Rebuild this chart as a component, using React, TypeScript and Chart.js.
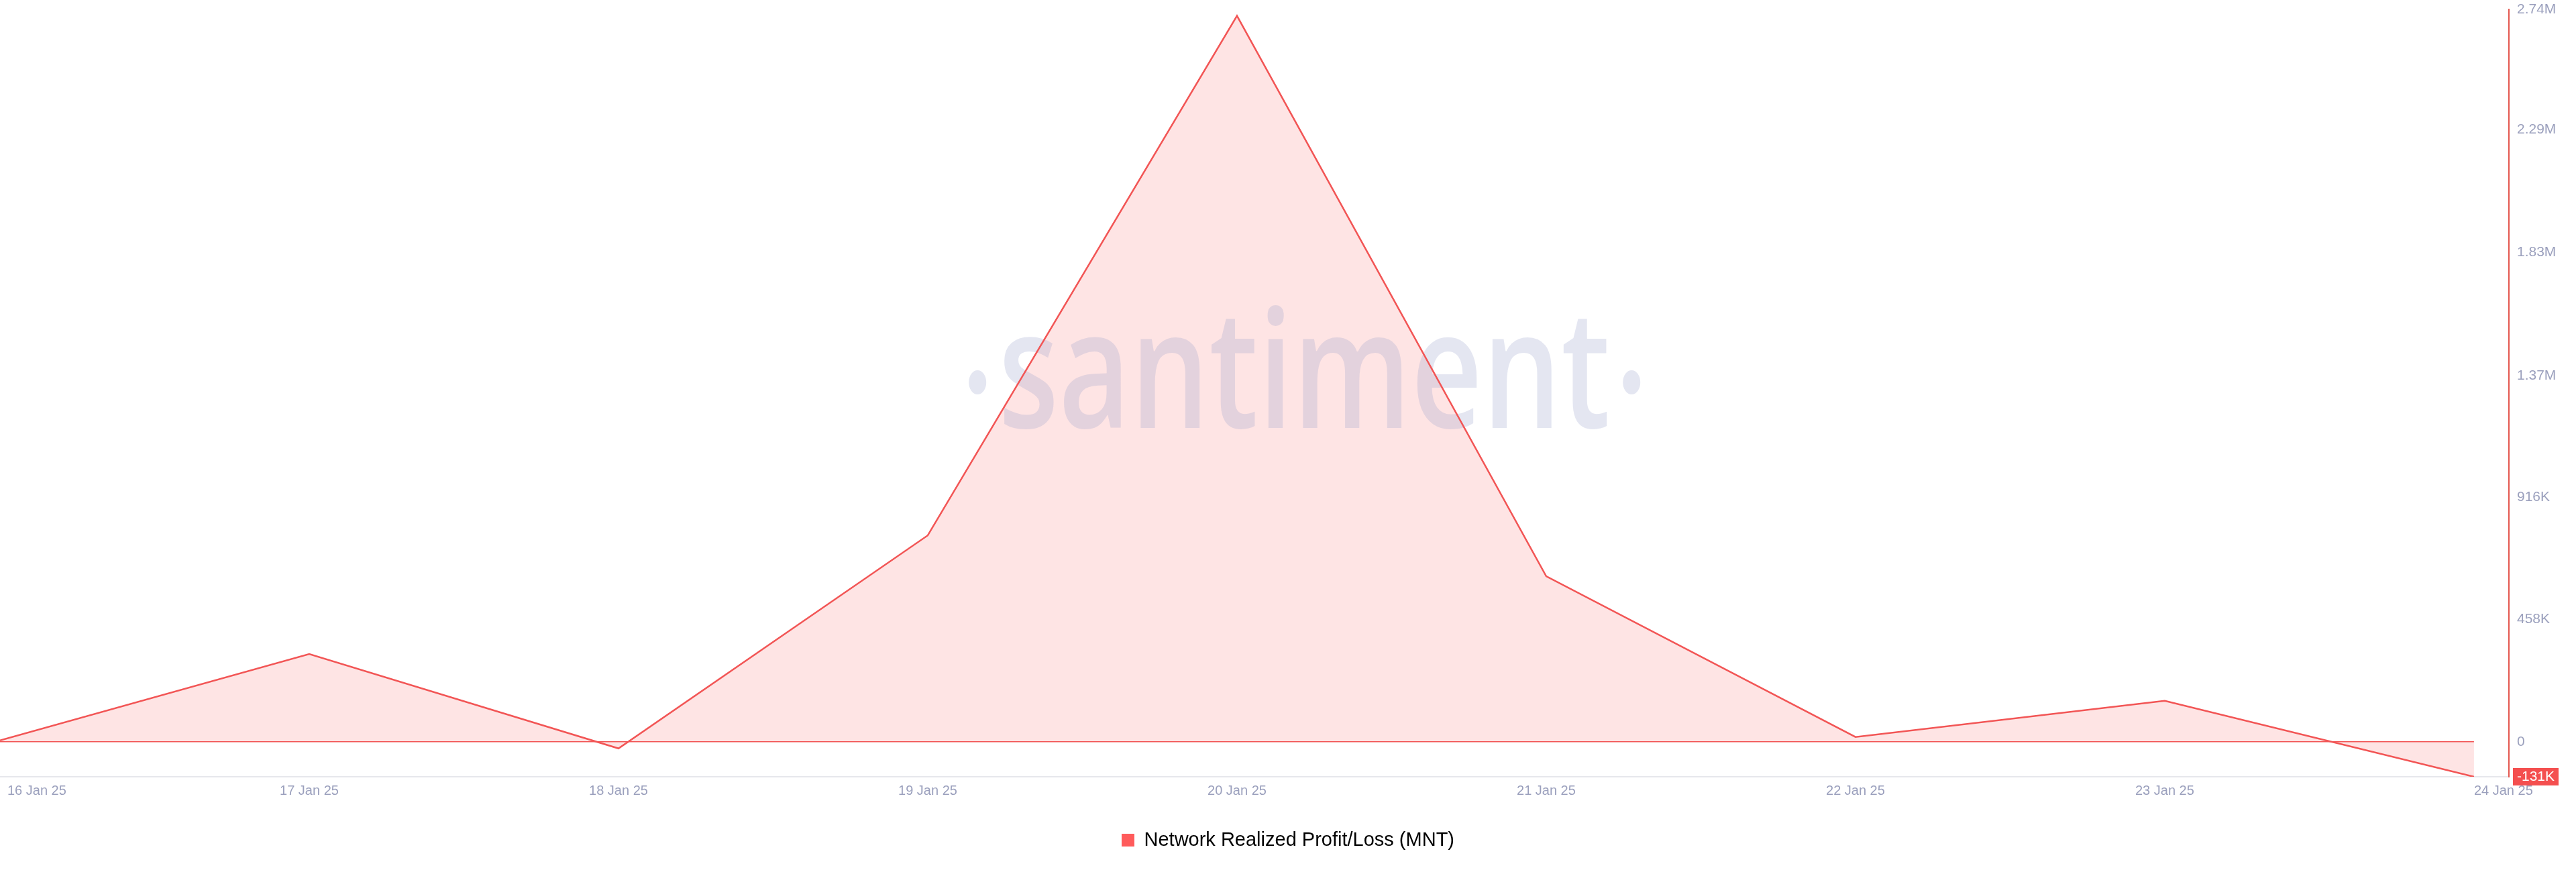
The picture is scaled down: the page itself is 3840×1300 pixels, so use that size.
import React, { useEffect, useRef } from "react";
import { Chart, registerables } from "chart.js";

Chart.register(...registerables);

// ---- data ----
const dateLabels = [
  "16 Jan 25",
  "17 Jan 25",
  "18 Jan 25",
  "19 Jan 25",
  "20 Jan 25",
  "21 Jan 25",
  "22 Jan 25",
  "23 Jan 25",
  "24 Jan 25",
];
const profitLoss = [5000, 328000, -25000, 772000, 2716000, 619000, 18000, 153000, -131000];
const yTickValues = [0, 458000, 916000, 1370000, 1830000, 2290000, 2740000];
const yTickLabels = ["0", "458K", "916K", "1.37M", "1.83M", "2.29M", "2.74M"];
const lastValueLabel = "-131K";
const seriesName = "Network Realized Profit/Loss (MNT)";
const yMin = -131000;
const yMax = 2740000;
const xMax = 8.113;

const FONT = '"Liberation Sans", Arial, sans-serif';
const RED = "#f25555";
const TICK_COLOR = "#9ba0bd";

export default function App() {
  const ref = useRef<HTMLCanvasElement | null>(null);

  useEffect(() => {
    document.body.style.margin = "0";
    const canvas = ref.current;
    if (!canvas) return;

    const watermark = {
      id: "watermark",
      beforeDatasetsDraw(chart: any) {
        const ctx = chart.ctx;
        const cx = chart.width * 0.5063;
        const baseline = 638;
        ctx.save();
        ctx.globalAlpha = 0.26;
        ctx.fillStyle = "rgb(150,160,200)";
        ctx.font = '600 245px "Open Sans"';
        ctx.textBaseline = "alphabetic";
        ctx.textAlign = "left";
        const w = ctx.measureText("santiment").width;
        const target = 912;
        const sx = target / w;
        ctx.translate(cx - target / 2, baseline);
        ctx.scale(sx, 1);
        ctx.fillText("santiment", 0, 0);
        ctx.restore();
        ctx.save();
        ctx.globalAlpha = 0.26;
        ctx.fillStyle = "rgb(150,160,200)";
        for (const dx of [-487, 488]) {
          ctx.beginPath();
          ctx.ellipse(cx + dx, 570, 13, 18, 0, 0, Math.PI * 2);
          ctx.fill();
        }
        ctx.restore();
      },
    };

    const extras = {
      id: "extras",
      afterDatasetsDraw(chart: any) {
        const ctx = chart.ctx;
        const xs = chart.scales.x;
        const ys = chart.scales.y;
        const y0 = ys.getPixelForValue(0);
        ctx.save();
        ctx.strokeStyle = RED;
        ctx.lineWidth = 1.5;
        ctx.beginPath();
        ctx.moveTo(xs.getPixelForValue(0), y0);
        ctx.lineTo(xs.getPixelForValue(profitLoss.length - 1), y0);
        ctx.stroke();
        ctx.restore();
      },
      afterDraw(chart: any) {
        const ctx = chart.ctx;
        const xs = chart.scales.x;
        const ys = chart.scales.y;
        ctx.save();
        ctx.font = `20px ${FONT}`;
        ctx.fillStyle = TICK_COLOR;
        ctx.textBaseline = "middle";
        const ty = xs.top + 21;
        dateLabels.forEach((lab, i) => {
          const px = xs.getPixelForValue(i);
          if (i === 0) {
            ctx.textAlign = "left";
            ctx.fillText(lab, px + 11, ty);
          } else if (i === dateLabels.length - 1) {
            ctx.textAlign = "left";
            ctx.fillText(lab, px, ty);
          } else {
            ctx.textAlign = "center";
            ctx.fillText(lab, px, ty);
          }
        });
        // last value badge
        ctx.font = `21px ${FONT}`;
        const ly = ys.getPixelForValue(profitLoss[profitLoss.length - 1]);
        const tw = ctx.measureText(lastValueLabel).width;
        const bx = ys.left + 6;
        ctx.fillStyle = "#f44f4f";
        ctx.fillRect(bx, ly - 13, tw + 12, 26);
        ctx.fillStyle = "#ffffff";
        ctx.textAlign = "left";
        ctx.fillText(lastValueLabel, bx + 6, ly + 0.5);
        ctx.restore();
      },
    };

    const chart = new Chart(canvas, {
      type: "line",
      data: {
        datasets: [
          {
            label: seriesName,
            data: profitLoss.map((v, i) => ({ x: i, y: v })),
            borderColor: RED,
            borderWidth: 2.5,
            backgroundColor: "rgba(254,228,228,1)",
            fill: "origin",
            pointRadius: 0,
            tension: 0,
          },
        ],
      },
      options: {
        animation: false,
        responsive: false,
        devicePixelRatio: 1,
        layout: { padding: { top: 0, left: 0, right: 0, bottom: 23 } },
        plugins: {
          filler: { drawTime: "beforeDatasetsDraw" },
          tooltip: { enabled: false },
          legend: {
            position: "bottom",
            labels: {
              font: { size: 29, family: FONT },
              color: "#1b1c2e",
              boxWidth: 19,
              boxHeight: 19,
              padding: 10,
              generateLabels: () => [
                {
                  text: seriesName,
                  fillStyle: "#ff5b5b",
                  strokeStyle: "#ff5b5b",
                  lineWidth: 0,
                  hidden: false,
                  datasetIndex: 0,
                },
              ],
            },
          },
        },
        scales: {
          x: {
            type: "linear",
            min: 0,
            max: xMax,
            grid: { display: false, drawTicks: false },
            border: { display: true, color: "#e6e7ec", width: 2 },
            ticks: { display: false },
            afterFit: (s: any) => {
              s.height = 70;
              s.paddingLeft = 0;
              s.paddingRight = 0;
            },
          },
          y: {
            type: "linear",
            position: "right",
            min: yMin,
            max: yMax,
            grid: { display: false, drawTicks: false },
            border: { display: true, color: "#e4574f", width: 2 },
            afterBuildTicks: (axis: any) => {
              axis.ticks = yTickValues.map((v) => ({ value: v }));
            },
            ticks: {
              padding: 12,
              color: TICK_COLOR,
              font: { size: 21, family: FONT },
              callback: (v: any) => {
                const idx = yTickValues.indexOf(Number(v));
                return idx >= 0 ? yTickLabels[idx] : "";
              },
            },
            afterFit: (s: any) => {
              s.width = 100;
              s.paddingTop = 14;
              s.paddingBottom = 0;
            },
          },
        },
      },
      plugins: [watermark, extras],
    });

    return () => chart.destroy();
  }, []);

  return (
    <div style={{ width: 3840, height: 1300, background: "#fff" }}>
      <canvas ref={ref} width={3840} height={1300} style={{ display: "block" }} />
    </div>
  );
}
